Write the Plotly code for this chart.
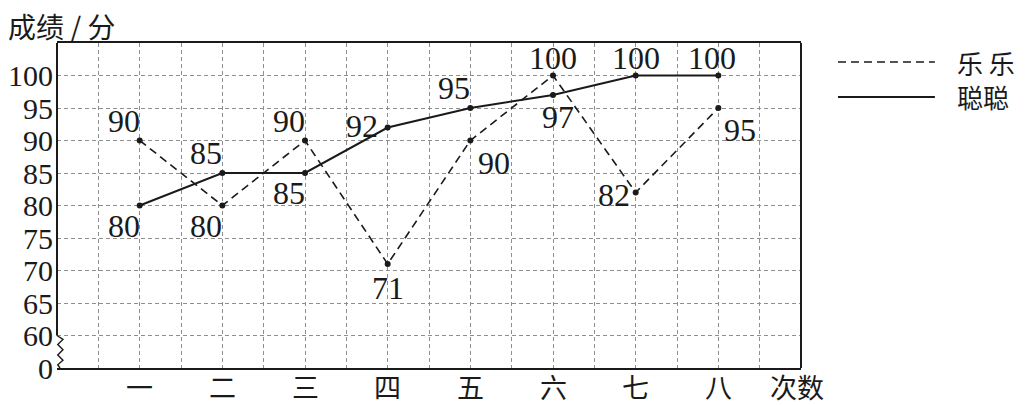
import plotly.graph_objects as go

# data
rounds = ["一", "二", "三", "四", "五", "六", "七", "八"]
lele = [90, 80, 90, 71, 90, 100, 82, 95]        # dashed
congcong = [80, 85, 85, 92, 95, 97, 100, 100]   # solid
y_ticks = [55, 60, 65, 70, 75, 80, 85, 90, 95, 100]
y_text = ["0", "60", "65", "70", "75", "80", "85", "90", "95", "100"]

# label placement per point: (xanchor, yanchor, xshift, yshift)
lele_pos = [("right", "bottom", 2, 0), ("right", "top", 2, 0), ("right", "bottom", 2, 0),
            ("center", "top", 0, -4), ("left", "top", 6, -2), ("center", "bottom", 0, -2),
            ("right", "middle", -4, -2), ("left", "top", 4, -2)]
cong_pos = [("right", "top", 2, 0), ("right", "bottom", 2, 0), ("right", "top", 2, 0),
            ("right", "middle", -8, 2), ("right", "bottom", 2, 0), ("center", "top", 5, -2),
            ("center", "bottom", 0, -2), ("center", "bottom", -6, -2)]

xs = list(range(1, len(rounds) + 1))
ink = "#1a1a1a"
serif = "Liberation Serif"
cjk = "Noto Sans CJK SC"
dash = "8px,5px"

fig = go.Figure()
fig.add_trace(go.Scatter(x=xs, y=lele, mode="lines+markers", name="乐乐",
                         line=dict(color=ink, width=1.6, dash=dash),
                         marker=dict(color=ink, size=6)))
fig.add_trace(go.Scatter(x=xs, y=congcong, mode="lines+markers", name="聪聪",
                         line=dict(color=ink, width=2),
                         marker=dict(color=ink, size=6)))

ann = []
for series, pos in ((lele, lele_pos), (congcong, cong_pos)):
    for x, v, (xa, ya, dx, dy) in zip(xs, series, pos):
        ann.append(dict(x=x, y=v, text=str(v), showarrow=False, xanchor=xa, yanchor=ya,
                        xshift=dx, yshift=dy, font=dict(family=serif, size=32, color=ink)))

# title, x labels, axis name
ann.append(dict(x=0, y=1.0, xref="paper", yref="paper", text="成绩 / 分", showarrow=False,
                xanchor="left", yanchor="bottom", xshift=-51, yshift=-5,
                font=dict(family=cjk, size=28, color=ink)))
for x, t in zip(xs, rounds):
    ann.append(dict(x=x, y=0, yref="paper", text=t, showarrow=False, yanchor="top", yshift=3,
                    font=dict(family=cjk, size=27, color=ink)))
ann.append(dict(x=9, y=0, yref="paper", text="次数", showarrow=False, yanchor="top", yshift=3,
                xshift=-4, font=dict(family=cjk, size=27, color=ink)))

# legend drawn by hand
for yy, name in ((0.9415, "乐 乐"), (0.834, "聪聪")):
    ann.append(dict(x=1.207, y=yy, xref="paper", yref="paper", text=name, showarrow=False,
                    xanchor="left", yanchor="middle", font=dict(family=cjk, size=26, color=ink)))

shapes = [
    dict(type="line", xref="paper", yref="paper", x0=1.0497, x1=1.18, y0=0.9415, y1=0.9415,
         line=dict(color=ink, width=1.6, dash=dash)),
    dict(type="line", xref="paper", yref="paper", x0=1.0497, x1=1.18, y0=0.834, y1=0.834,
         line=dict(color=ink, width=2)),
    # frame: left (above break), right
    dict(type="line", xref="paper", yref="y", x0=0, x1=0, y0=60, y1=105,
         line=dict(color=ink, width=2)),
    dict(type="line", xref="paper", yref="y", x0=1, x1=1, y0=55, y1=105,
         line=dict(color=ink, width=2)),
    # axis break zigzag
    dict(type="path", xref="paper", yref="y",
         path="M 0,60 L 0.008,59.4 L 0.001,58.6 L 0.008,57.8 L 0.001,57.0 L 0.008,56.2 L 0.001,55.5 L 0.004,55",
         line=dict(color=ink, width=1.4)),
]

grid = dict(showgrid=True, gridcolor="#8f8f8f", gridwidth=1, griddash="4px,3px")

# page body has an 8px margin, so the figure is drawn 8px smaller and offset
fig.update_layout(
    width=1019, height=397,
    margin=dict(l=49, r=226, t=35, b=37, autoexpand=False),
    paper_bgcolor="white", plot_bgcolor="white",
    showlegend=False,
    xaxis=dict(range=[0, 9], tickvals=[], showline=True, mirror=True, linecolor=ink,
               linewidth=2, zeroline=False, showgrid=False, automargin=False,
               minor=dict(tick0=0, dtick=0.5, ticks="", **grid)),
    yaxis=dict(range=[55, 105], tickvals=y_ticks, ticktext=y_text, showline=False,
               zeroline=False, ticks="", ticklabelstandoff=3, automargin=False,
               tickfont=dict(family=serif, size=30, color=ink), **grid),
    annotations=ann,
    shapes=shapes,
)

fig.write_html("out.html")
